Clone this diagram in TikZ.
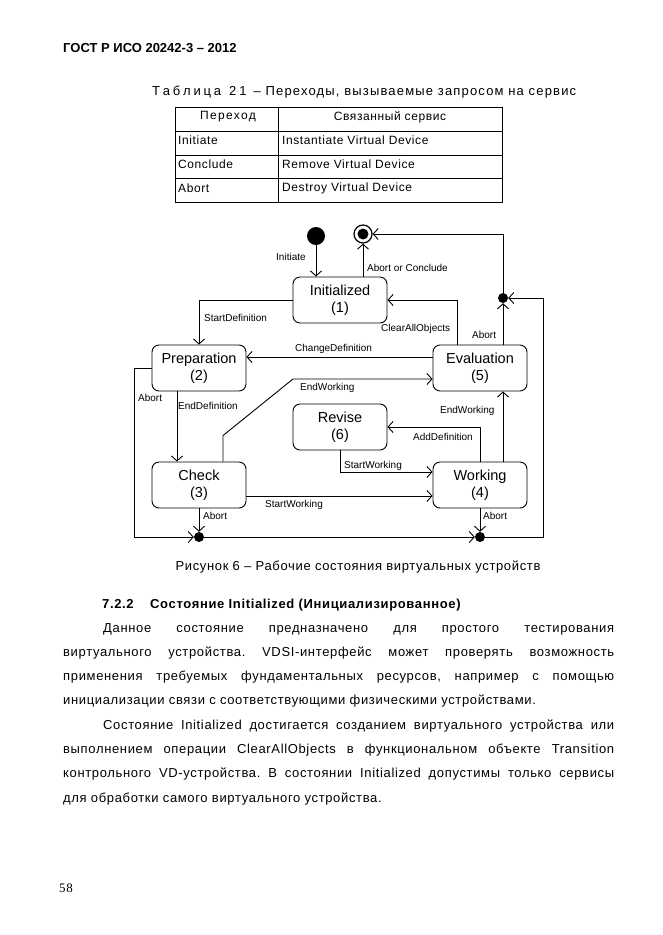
\documentclass[tikz,border=0pt]{standalone}
\usepackage{fontspec}
\setmainfont{Liberation Sans}
\newfontfamily\seriffont[LetterSpace=6]{Liberation Serif}
\newfontfamily\bodyf[LetterSpace=5]{Liberation Sans}
\newfontfamily\capf[LetterSpace=9]{Liberation Sans}
\newfontfamily\widef[LetterSpace=11]{Liberation Sans}
\usetikzlibrary{arrows.meta,calc}
\frenchspacing
\tikzset{
  state/.style={draw, line width=0.9pt, rounded corners=7pt, minimum width=94pt, minimum height=46pt, align=center, inner sep=0pt, font=\fontsize{14.5}{17}\selectfont},
  lbl/.style={inner sep=0pt, anchor=west, font=\fontsize{10}{12}\selectfont},
  arr/.style={line width=0.9pt, -{Straight Barb[length=5pt,width=11pt,line width=0.9pt]}},
  jdot/.style={circle, fill, inner sep=0pt, minimum size=10pt},
  txt/.style={inner sep=0pt, anchor=base west, font=\bodyf\fontsize{13}{15}\selectfont},
  tbl/.style={inner sep=0pt, anchor=west, font=\bodyf\fontsize{12}{14}\selectfont},
  tline/.style={line width=0.8pt}
}
\begin{document}
\begin{tikzpicture}[x=1pt,y=-1pt]
\useasboundingbox[fill=white] (0,0) rectangle (662,935);
% header
\node[inner sep=0pt, anchor=base west, font=\fontsize{13}{15}\selectfont\bfseries] (hdr) at (63,52) {ГОСТ Р ИСО 20242-3 – 2012};
% table caption
\node[txt, font=\capf\fontsize{13}{15}\selectfont] (tcap) at (152,95) {Т\hspace{2.8pt}а\hspace{2.8pt}б\hspace{2.8pt}л\hspace{2.8pt}и\hspace{2.8pt}ц\hspace{2.8pt}а\hspace{8pt}2\hspace{3pt}1\hspace{7pt}– Переходы, вызываемые запросом на сервис};
% table
\draw[tline] (175,107) rectangle (502,202);
\draw[tline] (175,131) -- (502,131);
\draw[tline] (175,155) -- (502,155);
\draw[tline] (175,178) -- (502,178);
\draw[tline] (278,107) -- (278,202);
\node[tbl, anchor=center, font=\widef\fontsize{12}{14}\selectfont] (th1) at (228,117) {Переход};
\node[tbl, anchor=center] (th2) at (390,117) {Связанный сервис};
\node[tbl] (r1a) at (178,140) {Initiate};
\node[tbl] (r1b) at (282,140) {Instantiate Virtual Device};
\node[tbl] (r2a) at (178,164) {Conclude};
\node[tbl] (r2b) at (282,164) {Remove Virtual Device};
\node[tbl] (r3a) at (178,188) {Abort};
\node[tbl] (r3b) at (282,188) {Destroy Virtual Device};
% diagram nodes
\node[circle, fill, inner sep=0pt, minimum size=18pt] (init) at (316,236) {};
\node[circle, draw, line width=1.2pt, inner sep=0pt, minimum size=18pt] (final) at (363,234) {};
\node[circle, fill, inner sep=0pt, minimum size=11pt] (finalin) at (363,234) {};
\node[state] (S1) at (340,300) {Initialized\\(1)};
\node[state] (S2) at (199,368) {Preparation\\(2)};
\node[state] (S5) at (480,368) {Evaluation\\(5)};
\node[state] (S6) at (340,427) {Revise\\(6)};
\node[state] (S3) at (199,485) {Check\\(3)};
\node[state] (S4) at (480,485) {Working\\(4)};
\node[jdot] (jtop) at (503,298) {};
\node[jdot] (jbl) at (199,537) {};
\node[jdot] (jbr) at (480,537) {};
\coordinate (cL) at (134,537);
\coordinate (cR) at (543,537);
\coordinate (ew) at (293,379);
% connectors
\draw[arr] (init) -- (init |- S1.north);
\draw[arr] ([xshift=23pt]S1.north) -- (final);
\draw[arr] (jtop) |- (final);
\draw[arr] ([xshift=23pt]S5.north) -- (jtop);
\draw[arr] ([xshift=-23pt]S5.north) |- (S1.east);
\draw[arr] (S1.west) -| (S2.north);
\draw[arr] ([yshift=11pt]S5.west) -- ([yshift=11pt]S2.east);
\draw[arr] ([xshift=-22pt]S2.south) -- ([xshift=-22pt]S3.north);
\draw[arr] (S2.west) -| (cL) -- (jbl);
\draw[arr] ([xshift=24pt]S3.north) -- ++(0,-26) -- (ew) -- (ew -| S5.west);
\draw[arr] (S4.north) |- (S6.east);
\draw[arr] ([xshift=23pt]S4.north) -- ([xshift=23pt]S5.south);
\draw[arr] (S6.south) |- ([yshift=13pt]S4.west);
\draw[arr] ([yshift=-11pt]S3.east) -- ([yshift=-11pt]S4.west);
\draw[arr] (S3.south) -- (jbl);
\draw[arr] (S4.south) -- (jbr);
\draw[arr] (jbl) -- (jbr);
\draw[arr] (jbr) -- (cR) |- (jtop);
% labels
\node[lbl] (l1) at (276,257) {Initiate};
\node[lbl] (l2) at (367,268) {Abort or Conclude};
\node[lbl] (l3) at (204,318) {StartDefinition};
\node[lbl] (l4) at (381,329) {ClearAllObjects};
\node[lbl] (l5) at (472,335) {Abort};
\node[lbl] (l6) at (295,349) {ChangeDefinition};
\node[lbl] (l7) at (300,388) {EndWorking};
\node[lbl] (l8) at (138,398) {Abort};
\node[lbl] (l9) at (178,406) {EndDefinition};
\node[lbl] (l10) at (440,411) {EndWorking};
\node[lbl] (l11) at (413,437) {AddDefinition};
\node[lbl] (l12) at (344,466) {StartWorking};
\node[lbl] (l13) at (265,505) {StartWorking};
\node[lbl] (l14) at (203,516) {Abort};
\node[lbl] (l15) at (483,516) {Abort};
% caption
\node[txt, anchor=base] (fcap) at (358,570) {Рисунок 6 – Рабочие состояния виртуальных устройств};
% section heading
\node[txt, font=\bodyf\fontsize{13}{15}\selectfont\bfseries] (sec) at (102,608) {7.2.2};
\node[txt, font=\bodyf\fontsize{13}{15}\selectfont\bfseries] (sect) at (150,608) {Состояние Initialized (Инициализированное)};
% paragraph
\node[txt] (p1) at (103,632) {\makebox[511pt][s]{Данное состояние предназначено для простого тестирования}};
\node[txt] (p2) at (63,656) {\makebox[551pt][s]{виртуального устройства. VDSI-интерфейс может проверять возможность}};
\node[txt] (p3) at (63,680) {\makebox[551pt][s]{применения требуемых фундаментальных ресурсов, например с помощью}};
\node[txt] (p4) at (63,704) {инициализации связи с соответствующими физическими устройствами.};
\node[txt] (p5) at (103,729) {\makebox[511pt][s]{Состояние Initialized достигается созданием виртуального устройства или}};
\node[txt] (p6) at (63,753) {\makebox[551pt][s]{выполнением операции ClearAllObjects в функциональном объекте Transition}};
\node[txt] (p7) at (63,777) {\makebox[551pt][s]{контрольного VD-устройства. В состоянии Initialized допустимы только сервисы}};
\node[txt] (p8) at (63,802) {для обработки самого виртуального устройства.};
% page number
\node[inner sep=0pt, anchor=base west, font=\seriffont\fontsize{13}{15}\selectfont] (pg) at (59,892) {58};
\end{tikzpicture}
\end{document}
